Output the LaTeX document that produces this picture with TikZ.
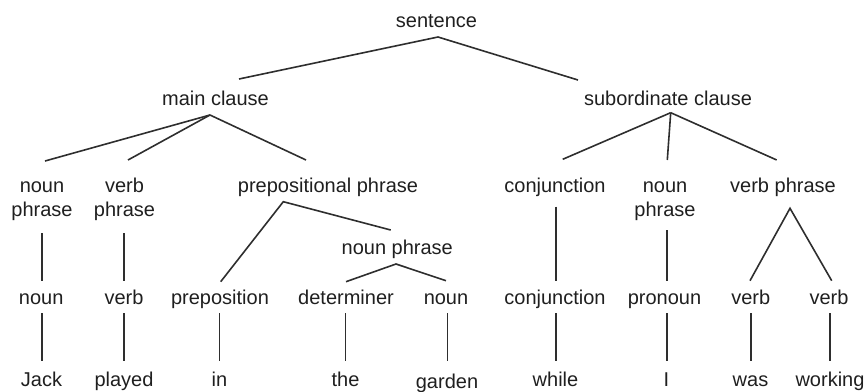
\documentclass[tikz,border=0pt]{standalone}
\usepackage{fontspec}
\setmainfont{Liberation Sans}
\begin{document}
\begin{tikzpicture}[x=1pt,y=-1pt,
  lbl/.style={anchor=base,inner sep=0pt,text=black!88,font=\fontsize{20}{24.2}\selectfont},
  edge/.style={draw=black!82,line width=1.6pt}]
\useasboundingbox (0,0) rectangle (867,391);
\newcommand{\twol}[2]{\begin{tabular}[t]{@{}c@{}}#1\\#2\end{tabular}}
% row 1
\node[lbl] (s) at (436.5,27.5) {sentence};
% row 2
\node[lbl] (mc) at (215.5,105) {main clause};
\node[lbl] (sc) at (668,105) {subordinate clause};
% row 3
\node[lbl] (np1) at (42,192.5) {\twol{noun}{phrase}};
\node[lbl] (vp1) at (124.5,192.5) {\twol{verb}{phrase}};
\node[lbl] (pp) at (328,192.5) {prepositional phrase};
\node[lbl] (cj1) at (555,192.5) {conjunction};
\node[lbl] (np2) at (665,192.5) {\twol{noun}{phrase}};
\node[lbl] (vp2) at (783,192.5) {verb phrase};
\node[lbl] (np3) at (397.3,254) {noun phrase};
% row 4
\node[lbl] (n1) at (41.2,304.3) {noun};
\node[lbl] (v1) at (124,304.3) {verb};
\node[lbl] (pr) at (220,304.3) {preposition};
\node[lbl] (dt) at (346,304.3) {determiner};
\node[lbl] (n2) at (446,304.3) {noun};
\node[lbl] (cj2) at (555,304.3) {conjunction};
\node[lbl] (pn) at (664.5,304.3) {pronoun};
\node[lbl] (v2) at (750.7,304.3) {verb};
\node[lbl] (v3) at (829,304.3) {verb};
% row 5
\node[lbl] (w1) at (41.5,386) {Jack};
\node[lbl] (w2) at (124,386) {played};
\node[lbl] (w3) at (219.5,386) {in};
\node[lbl] (w4) at (345.5,386) {the};
\node[lbl] (w5) at (447,388) {garden};
\node[lbl] (w6) at (555.5,386) {while};
\node[lbl] (w7) at (666.5,386) {I};
\node[lbl] (w8) at (750.5,386) {was};
\node[lbl] (w9) at (830,386) {working};
% connectors
\draw[edge] ([shift={(23.5,-26)}]mc.base) -- ([shift={(1.5,9.5)}]s.base) -- ([shift={(-90,-25)}]sc.base);
\draw[edge] ([shift={(3,-31.5)}]np1.base) -- ([shift={(-5.5,10)}]mc.base);
\draw[edge] ([shift={(3.5,-32.5)}]vp1.base) -- ([shift={(-5.5,10)}]mc.base);
\draw[edge] ([shift={(-22,-32.5)}]pp.base) -- ([shift={(-5.5,10)}]mc.base);
\draw[edge] ([shift={(7.7,-33.2)}]cj1.base) -- ([shift={(2.7,7.7)}]sc.base);
\draw[edge] ([shift={(2.3,-32.5)}]np2.base) -- ([shift={(2.7,7.7)}]sc.base);
\draw[edge] ([shift={(-6.3,-32.5)}]vp2.base) -- ([shift={(2.7,7.7)}]sc.base);
\draw[edge] ([shift={(-0.3,40.8)}]np1.base) -- ([shift={(0.5,-23.6)}]n1.base);
\draw[edge] ([shift={(-0.5,40.8)}]vp1.base) -- ([shift={(0,-23.6)}]v1.base);
\draw[edge] ([shift={(0.7,-22.6)}]pr.base) -- ([shift={(-44.7,9.2)}]pp.base) -- ([shift={(-6.6,-24)}]np3.base);
\draw[edge] ([shift={(0,-22.6)}]dt.base) -- ([shift={(-1.3,10)}]np3.base) -- ([shift={(0,-23.6)}]n2.base);
\draw[edge] ([shift={(1,14.2)}]cj1.base) -- ([shift={(1,-23.6)}]cj2.base);
\draw[edge] ([shift={(1.7,37.5)}]np2.base) -- ([shift={(2.2,-23.6)}]pn.base);
\draw[edge] ([shift={(-0.7,-23.6)}]v2.base) -- ([shift={(7,15.8)}]vp2.base) -- ([shift={(2.7,-23.6)}]v3.base);
\draw[edge] ([shift={(0.5,9)}]n1.base) -- ([shift={(0.2,-25.3)}]w1.base);
\draw[edge] ([shift={(0,9)}]v1.base) -- ([shift={(0,-25.3)}]w2.base);
\draw[edge] ([shift={(-0.7,9)}]pr.base) -- ([shift={(-0.2,-25.3)}]w3.base);
\draw[edge] ([shift={(-0.7,9)}]dt.base) -- ([shift={(-0.2,-25.3)}]w4.base);
\draw[edge] ([shift={(1.3,9)}]n2.base) -- ([shift={(0.3,-27.3)}]w5.base);
\draw[edge] ([shift={(1,9)}]cj2.base) -- ([shift={(0.5,-25.3)}]w6.base);
\draw[edge] ([shift={(2.2,9)}]pn.base) -- ([shift={(0.2,-25.3)}]w7.base);
\draw[edge] ([shift={(0,9)}]v2.base) -- ([shift={(0.2,-25.3)}]w8.base);
\draw[edge] ([shift={(1,9)}]v3.base) -- ([shift={(0,-25.3)}]w9.base);
\end{tikzpicture}
\end{document}
